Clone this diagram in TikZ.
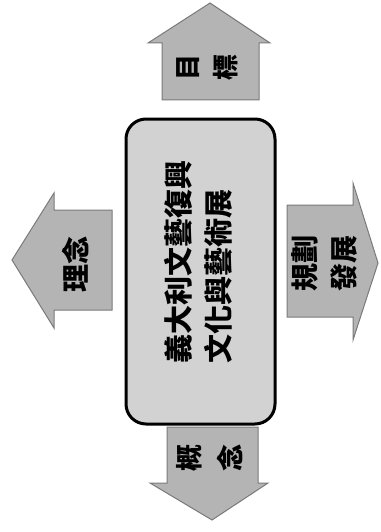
\documentclass[tikz,border=0pt]{standalone}
\usepackage{fontspec}
\newfontfamily\cjk{Noto Sans CJK TC}
\definecolor{arrowfill}{HTML}{B4B4B4}
\definecolor{arrowline}{HTML}{7A7A7A}
\definecolor{boxfill}{HTML}{D2D2D2}
\tikzset{
  arrowshape/.style={fill=arrowfill, draw=arrowline, line width=1pt, line join=miter},
  mainbox/.style={fill=boxfill, draw=black, line width=3pt, rounded corners=20pt},
  rottext/.style={rotate=90, inner sep=0pt, text=black},
}
\begin{document}
\begin{tikzpicture}[x=1pt, y=-1pt, font=\cjk\bfseries]
\useasboundingbox (0,0) rectangle (380,532);
% center box
\draw[mainbox] (126,119) rectangle (275,424);
% top arrow
\draw[arrowshape] (162,100) -- (162,43) -- (148,43) -- (210,3) -- (270,43) -- (259,43) -- (259,100) -- cycle;
% left arrow
\draw[arrowshape] (112,210) -- (54,210) -- (54,193) -- (12,260) -- (54,328) -- (54,310) -- (112,310) -- cycle;
% right arrow
\draw[arrowshape] (287,205) -- (353,205) -- (353,183) -- (378,263) -- (353,340) -- (353,317) -- (287,317) -- cycle;
% bottom arrow
\draw[arrowshape] (167,427) -- (258,427) -- (258,483) -- (268,483) -- (212,520) -- (150,483) -- (167,483) -- cycle;
% texts
\node[rottext, anchor=west, align=left, font=\cjk\bfseries\fontsize{29}{40}\selectfont] (maintext) at (198,364) {義大利文藝復興\\文化與藝術展};
\node[rottext, align=center, font=\cjk\bfseries\fontsize{26}{38}\selectfont] (goal) at (207,68) {目\\標};
\node[rottext, font=\cjk\bfseries\fontsize{28}{28}\selectfont] (idea) at (76,264) {理念};
\node[rottext, align=center, font=\cjk\bfseries\fontsize{28}{39}\selectfont] (plan) at (324,263) {規劃\\發展};
\node[rottext, align=center, font=\cjk\bfseries\fontsize{27}{41}\selectfont] (concept) at (210,458) {概\\念};
\end{tikzpicture}
\end{document}
